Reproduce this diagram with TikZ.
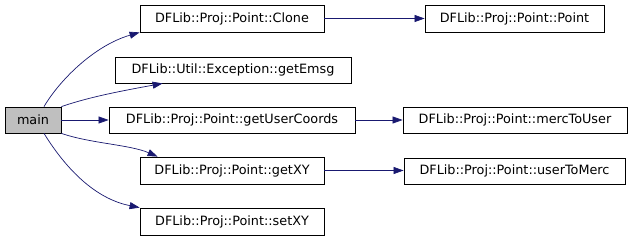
\documentclass[tikz,border=0pt]{standalone}
\usepackage{fontspec}
\setmainfont{DejaVu Sans}
\usetikzlibrary{arrows.meta}
\definecolor{edgeblue}{RGB}{25,25,112}
\definecolor{rootgray}{RGB}{191,191,191}
\tikzset{
  fn/.style={draw=black, line width=0.8pt, rectangle, inner sep=0pt, font=\fontsize{12.8}{14}\selectfont},
  root/.style={fn, fill=rootgray},
  call/.style={draw=edgeblue, line width=0.7pt, -{Triangle[length=10pt,width=7pt]}, color=edgeblue}
}
\begin{document}
\begin{tikzpicture}[x=1pt, y=-1pt]
  \useasboundingbox (0,0) rectangle (632,240);
  % call graph nodes
  \node[root, minimum width=56pt, minimum height=26pt] (main) at (33,120) {main};
  \node[fn, minimum width=184pt, minimum height=27pt] (clone) at (232,18.5) {DFLib::Proj::Point::Clone};
  \node[fn, minimum width=236pt, minimum height=26pt] (emsg) at (233,70) {DFLib::Util::Exception::getEmsg};
  \node[fn, minimum width=246pt, minimum height=26pt] (guc) at (232,120) {DFLib::Proj::Point::getUserCoords};
  \node[fn, minimum width=184pt, minimum height=27pt] (gxy) at (232,170.5) {DFLib::Proj::Point::getXY};
  \node[fn, minimum width=184pt, minimum height=27pt] (sxy) at (232,221.5) {DFLib::Proj::Point::setXY};
  \node[fn, minimum width=179pt, minimum height=27pt] (pt) at (514.5,18.5) {DFLib::Proj::Point::Point};
  \node[fn, minimum width=224pt, minimum height=26pt] (m2u) at (515,120) {DFLib::Proj::Point::mercToUser};
  \node[fn, minimum width=221pt, minimum height=26pt] (u2m) at (514.5,171) {DFLib::Proj::Point::userToMerc};
  % calls from main
  \draw[call] ([xshift=11pt]main.north) .. controls +(16,-27) and +(-45,13) .. (clone.south west);
  \draw[call] (main.north east) .. controls +(29,-10) and +(-38,7) .. ([xshift=48pt]emsg.south west);
  \draw[call] (main.east) -- (guc.west);
  \draw[call] (main.south east) .. controls +(29,10) and +(-28,-12) .. ([xshift=18pt]gxy.north west);
  \draw[call] ([xshift=11pt]main.south) .. controls +(26,42) and +(-40,-8) .. (sxy.north west);
  % second-level calls
  \draw[call] (clone.east) -- (pt.west);
  \draw[call] (guc.east) -- (m2u.west);
  \draw[call] (gxy.east) -- (u2m.west |- gxy.east);
\end{tikzpicture}
\end{document}
